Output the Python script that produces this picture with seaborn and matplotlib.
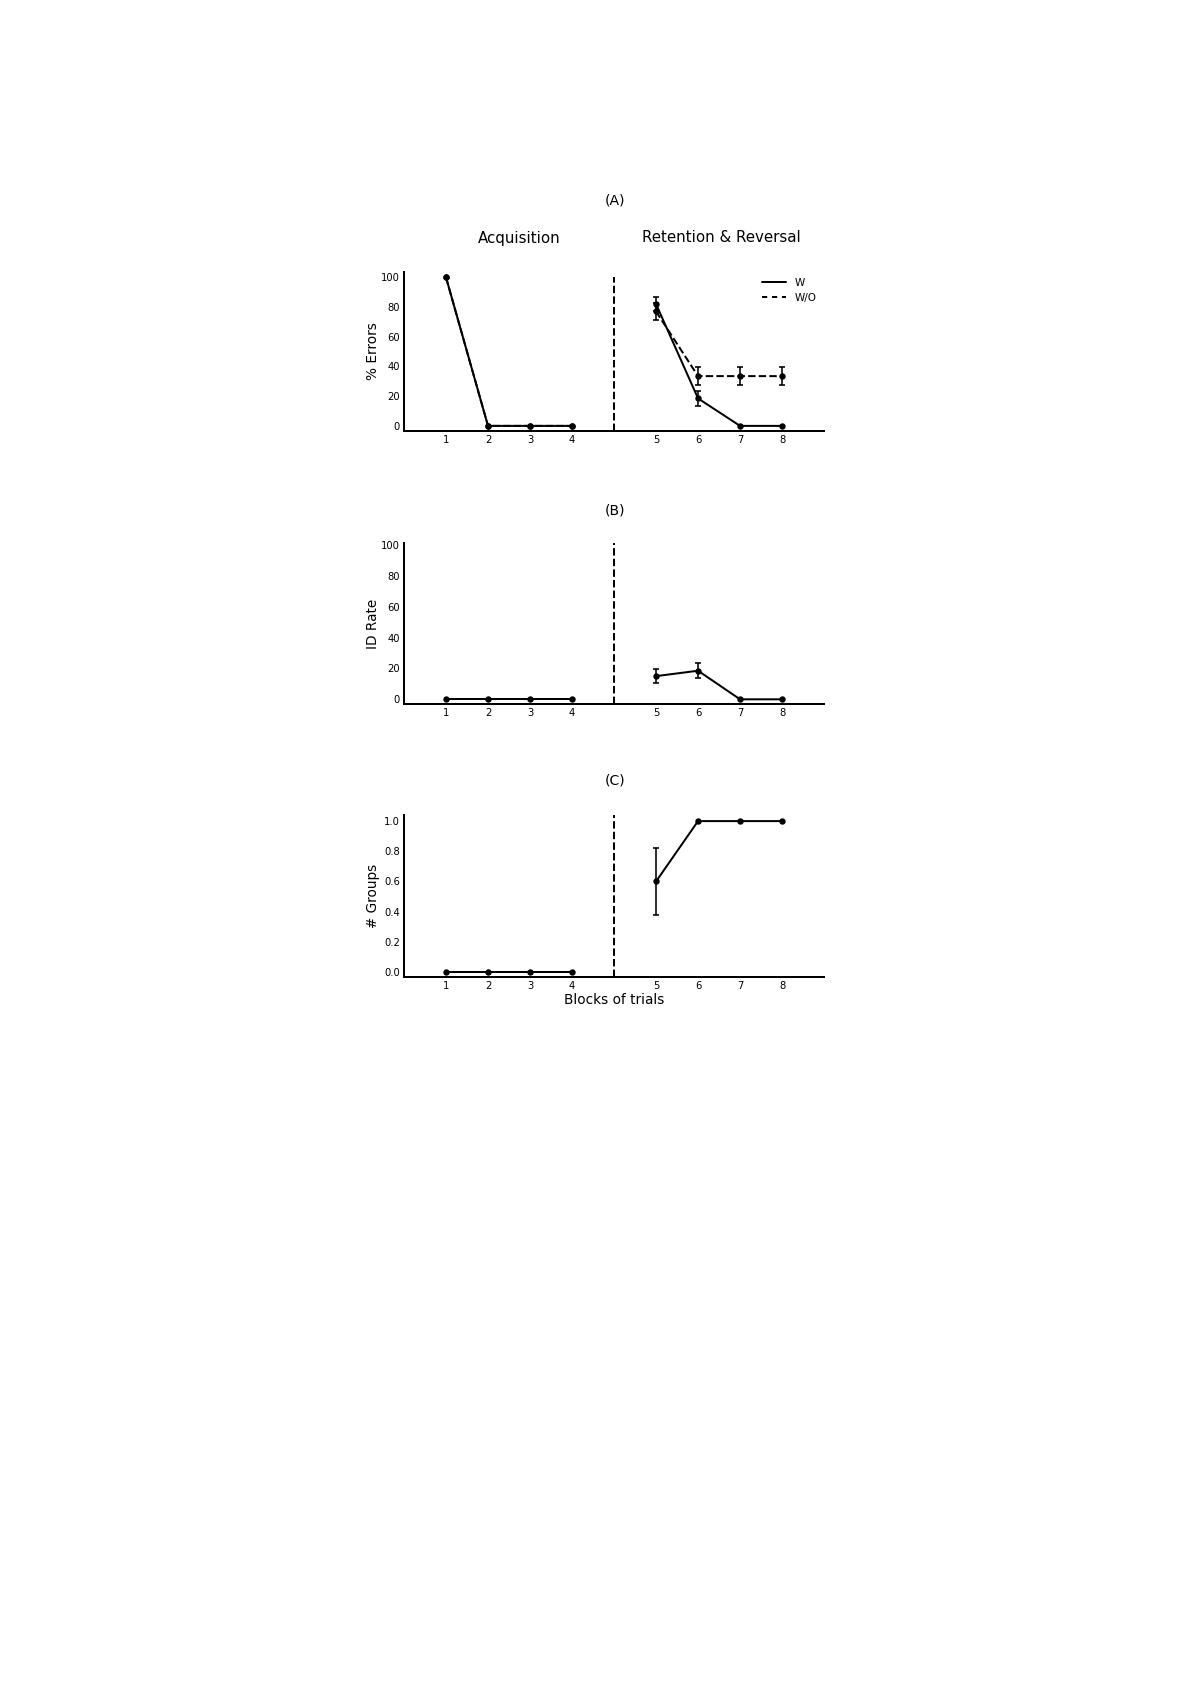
import numpy as np
import pandas as pd
import matplotlib
matplotlib.use('Agg')
import matplotlib.pyplot as plt
import seaborn as sns
from matplotlib.lines import Line2D

sns.set_style('white')
plt.rcParams['font.family'] = ['DejaVu Sans']
plt.rcParams['text.color'] = 'black'
plt.rcParams['axes.labelcolor'] = 'black'

# blocks of trials, acquisition (1-4) and retention & reversal (5-8)
block_labels = ['1', '2', '3', '4', '5', '6', '7', '8']
phase = ['acq'] * 4 + ['ret'] * 4
# plotting positions: one empty slot between the two phases
xpos = [1, 2, 3, 4, 6, 7, 8, 9]

# (A) % errors
err_w = [100, 0, 0, 0, 82, 18.5, 0, 0]
err_w_sd = [0, 0, 0, 0, 4.5, 5, 0, 0]
err_wo = [100, 0, 0, 0, 77, 33.5, 33.5, 33.5]
err_wo_sd = [0, 0, 0, 0, 5.5, 6, 6, 6]

# (B) ID rate
id_rate = [0, 0, 0, 0, 15, 18.5, 0, 0]
id_rate_sd = [0, 0, 0, 0, 4.5, 5, 0, 0]

# (C) # groups
groups = [0, 0, 0, 0, 0.6, 1.0, 1.0, 1.0]
groups_sd = [0, 0, 0, 0, 0.22, 0, 0, 0]


def draw(ax, vals, sd, ls='-'):
    df = pd.DataFrame({'x': xpos, 'y': vals, 'phase': phase})
    sns.lineplot(data=df, x='x', y='y', units='phase', estimator=None,
                 color='black', lw=1, linestyle=ls, marker='o',
                 markersize=3.2, markeredgewidth=0, ax=ax, legend=False)
    m = np.array(sd) > 0
    ax.errorbar(np.array(xpos)[m], np.array(vals)[m], yerr=np.array(sd)[m],
                fmt='none', ecolor='black', elinewidth=0.8, capsize=1.4,
                capthick=0.8)


def style(ax, ylabel, ylim, yticks, vtop=1.0):
    ax.axvline(5, ymax=vtop, color='black', ls='--', lw=1)
    ax.set_xlim(0, 10)
    ax.set_ylim(*ylim)
    ax.set_xticks(xpos)
    ax.set_xticklabels(block_labels)
    ax.set_yticks(yticks)
    ax.tick_params(length=0, pad=2, labelsize=5, colors='black')
    for s in ['top', 'right']:
        ax.spines[s].set_visible(False)
    for s in ['left', 'bottom']:
        ax.spines[s].set_color('black')
        ax.spines[s].set_linewidth(1)
    ax.set_xlabel('')
    ax.set_ylabel(ylabel, fontsize=6.8)
    ax.yaxis.set_label_coords(-0.058, 0.5)


fig = plt.figure(figsize=(1191 / 144, 1684 / 144), dpi=144)
left, width = 0.3392, 0.3527

ax1 = fig.add_axes([left, 0.7441, width, 0.0944])
draw(ax1, err_w, err_w_sd, '-')
draw(ax1, err_wo, err_wo_sd, '--')
style(ax1, '% Errors', (-3.4, 103.6), [0, 20, 40, 60, 80, 100], vtop=0.97)
handles = [Line2D([], [], color='black', lw=1, ls='-'),
           Line2D([], [], color='black', lw=1, ls=(0, (2.6, 2.4)))]
ax1.legend(handles, ['W', 'W/O'], loc='upper right', frameon=False,
           fontsize=5.2, handlelength=2.3, handletextpad=0.9,
           labelspacing=0.5, borderaxespad=0.0,
           bbox_to_anchor=(0.993, 0.99))

ax2 = fig.add_axes([left, 0.5818, width, 0.0956])
draw(ax2, id_rate, id_rate_sd)
style(ax2, 'ID Rate', (-3.2, 101), [0, 20, 40, 60, 80, 100])

ax3 = fig.add_axes([left, 0.4200, width, 0.0960])
draw(ax3, groups, groups_sd)
style(ax3, '# Groups', (-0.031, 1.04), [0.0, 0.2, 0.4, 0.6, 0.8, 1.0])
ax3.set_yticklabels(['0.0', '0.2', '0.4', '0.6', '0.8', '1.0'])
ax3.set_xlabel('Blocks of trials', fontsize=6.8, labelpad=1)

fig.text(615 / 1191, 1 - 200.7 / 1684, '(A)', ha='center', va='center', fontsize=7)
fig.text(519 / 1191, 1 - 238 / 1684, 'Acquisition', ha='center', va='center', fontsize=7.5)
fig.text(721 / 1191, 1 - 238 / 1684, 'Retention & Reversal', ha='center', va='center', fontsize=7.5)
fig.text(615 / 1191, 1 - 510.7 / 1684, '(B)', ha='center', va='center', fontsize=7)
fig.text(615 / 1191, 1 - 780.7 / 1684, '(C)', ha='center', va='center', fontsize=7)

fig.savefig('out.png', dpi=144)
